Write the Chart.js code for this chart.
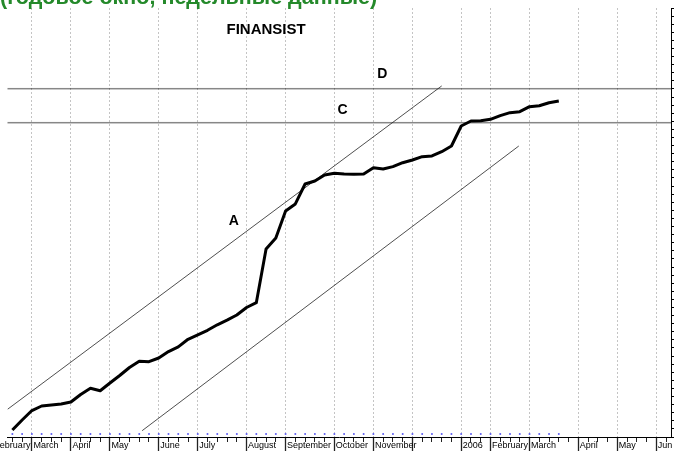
<!DOCTYPE html>
<html lang="ru">
<head>
  <meta charset="UTF-8">
  <title>FINANSIST</title>
  <script src="https://cdn.jsdelivr.net/npm/chart.js"></script>
  <style>
    body { margin: 0; background: #fff; }
    .chart-container { position: relative; width: 675px; height: 451px; }
  </style>
</head>
<body>
  <div class="chart-container">
    <canvas id="priceChart" width="675" height="451"></canvas>
  </div>

  <script>
    // weekly closes, week 0 = mid February 2005
    const closePrices = [
      0.86, 2.10, 3.27, 3.83, 3.95, 4.08, 4.32, 5.25, 6.02, 5.72,
      6.67, 7.60, 8.59, 9.35, 9.30, 9.76, 10.56, 11.14, 12.07, 12.63,
      13.18, 13.86, 14.43, 15.07, 16.00, 16.59, 23.23, 24.59, 27.92, 28.79,
      31.26, 31.63, 32.37, 32.58, 32.49, 32.46, 32.49, 33.27, 33.11, 33.40,
      33.89, 34.22, 34.63, 34.72, 35.25, 35.95, 38.42, 39.04, 39.08, 39.25,
      39.70, 40.07, 40.19, 40.81, 40.93, 41.30, 41.51
    ];
    // small blue markers along the bottom
    const baseMarks = [
      0.37, 0.37, 0.37, 0.37, 0.37, 0.37, 0.37, 0.37, 0.37, 0.37,
      0.37, 0.37, 0.37, 0.37, 0.37, 0.37, 0.37, 0.37, 0.37, 0.37,
      0.37, 0.37, 0.37, 0.37, 0.37, 0.37, 0.37, 0.37, 0.37, 0.37,
      0.37, 0.37, 0.37, 0.37, 0.37, 0.37, 0.37, 0.37, 0.37, 0.37,
      0.37, 0.37, 0.37, 0.37, 0.37, 0.37, 0.37, 0.37, 0.37, 0.37,
      0.37, 0.37, 0.37, 0.37, 0.37, 0.37, 0.37
    ];

    // channel lines (week, value)
    const upperWeeks = [-0.5, 44];
    const upperValues = [3.42, 43.37];
    const lowerWeeks = [13.3, 51.9];
    const lowerValues = [0.78, 35.95];
    const levelWeeks = [-0.5, 67.5];
    const levelC = 38.83;
    const levelD = 43.03;

    // axis
    const totalWeeks = 68;
    const monthWeeks = [-2, 2, 6, 10, 15, 19, 24, 28, 33, 37, 41, 46, 49, 53, 58, 62, 66];
    const monthNames = ['February', 'March', 'April', 'May', 'June', 'July', 'August', 'September',
      'October', 'November', '', '2006', 'February', 'March', 'April', 'May', 'Jun'];

    // letters on the chart
    const noteText = ['A', 'C', 'D'];
    const noteWeeks = [22.7, 33.85, 37.9];
    const noteValues = [26.7, 40.4, 44.8];
    const titleText = 'FINANSIST';
    const titleWeek = 26.0;
    const titleValue = 50.3;
    const subtitle = '(годовое окно, недельные данные)';

    const toPoints = (xs, ys) => xs.map((x, i) => ({ x: x, y: ys[i] }));
    const isMonth = (v) => monthWeeks.includes(v);
    const FONT = '"Liberation Sans", Arial, sans-serif';

    const textPlugin = {
      id: 'chartText',
      afterDatasetsDraw(chart) {
        const { ctx, scales: { x, y } } = chart;
        ctx.save();
        ctx.fillStyle = '#000';
        ctx.textAlign = 'center';
        ctx.textBaseline = 'middle';
        ctx.font = 'bold 15px ' + FONT;
        ctx.fillText(titleText, x.getPixelForValue(titleWeek), y.getPixelForValue(titleValue));
        ctx.font = 'bold 14px ' + FONT;
        noteText.forEach((t, i) => {
          ctx.fillText(t, x.getPixelForValue(noteWeeks[i]), y.getPixelForValue(noteValues[i]));
        });

        // green header, cut off by the top edge
        ctx.fillStyle = '#24892a';
        ctx.textAlign = 'left';
        ctx.textBaseline = 'alphabetic';
        ctx.font = 'bold 20px ' + FONT;
        const w = ctx.measureText(subtitle).width;
        ctx.font = 'bold ' + (20 * 377 / w).toFixed(1) + 'px ' + FONT;
        ctx.fillText(subtitle, 0, 4);
        ctx.restore();
      }
    };

    const ctx = document.getElementById('priceChart').getContext('2d');
    new Chart(ctx, {
      type: 'line',
      data: {
        datasets: [
          {
            data: closePrices.map((v, i) => ({ x: i, y: v })),
            borderColor: '#000',
            borderWidth: 3,
            borderJoinStyle: 'round',
            pointRadius: 0,
            tension: 0
          },
          {
            data: toPoints(upperWeeks, upperValues),
            borderColor: '#222',
            borderWidth: 0.8,
            pointRadius: 0
          },
          {
            data: toPoints(lowerWeeks, lowerValues),
            borderColor: '#222',
            borderWidth: 0.8,
            pointRadius: 0
          },
          {
            data: toPoints(levelWeeks, [levelC, levelC]),
            borderColor: '#111',
            borderWidth: 1.5,
            borderDash: [1, 1],
            pointRadius: 0
          },
          {
            data: toPoints(levelWeeks, [levelD, levelD]),
            borderColor: '#111',
            borderWidth: 1.5,
            borderDash: [1, 1],
            pointRadius: 0
          },
          {
            data: baseMarks.map((v, i) => ({ x: i, y: v })),
            showLine: false,
            pointRadius: 1,
            pointBorderWidth: 0,
            pointBackgroundColor: '#5b5bf0'
          }
        ]
      },
      options: {
        responsive: false,
        animation: false,
        layout: { padding: { left: 7.5, top: 8, right: 0, bottom: 0 } },
        plugins: {
          legend: { display: false },
          tooltip: { enabled: false }
        },
        scales: {
          x: {
            type: 'linear',
            min: -0.5,
            max: totalWeeks - 0.5,
            afterBuildTicks: (scale) => {
              const ticks = [{ value: monthWeeks[0] }];
              for (let i = 0; i < totalWeeks; i++) ticks.push({ value: i });
              scale.ticks = ticks;
            },
            afterFit: (scale) => {
              scale.height = 14;
              scale.paddingLeft = 0;
              scale.paddingRight = 0;
            },
            ticks: {
              autoSkip: false,
              maxRotation: 0,
              minRotation: 0,
              align: 'start',
              labelOffset: 1.5,
              padding: -10.9,
              color: '#000',
              font: { family: FONT, size: 9 },
              callback: (v) => {
                const k = monthWeeks.indexOf(v);
                return k >= 0 ? monthNames[k] : '';
              }
            },
            grid: {
              color: (c) => (c.tick && isMonth(c.tick.value)) ? '#c4c4c4' : 'rgba(0,0,0,0)',
              lineWidth: 1,
              tickLength: 14,
              tickColor: '#222',
              tickWidth: (c) => (c.tick && isMonth(c.tick.value)) ? 1.3 : 1,
              tickBorderDash: (c) => (c.tick && isMonth(c.tick.value)) ? [] : [4, 40]
            },
            border: { display: true, color: '#000', width: 1, dash: [2, 2] }
          },
          y: {
            position: 'right',
            min: 0,
            max: 53,
            afterFit: (scale) => { scale.width = 1.3; },
            ticks: { stepSize: 1, display: false },
            grid: { drawOnChartArea: false, tickLength: 3, tickColor: '#000' },
            border: { display: true, color: '#000', width: 1 }
          }
        }
      },
      plugins: [textPlugin]
    });
  </script>
</body>
</html>
